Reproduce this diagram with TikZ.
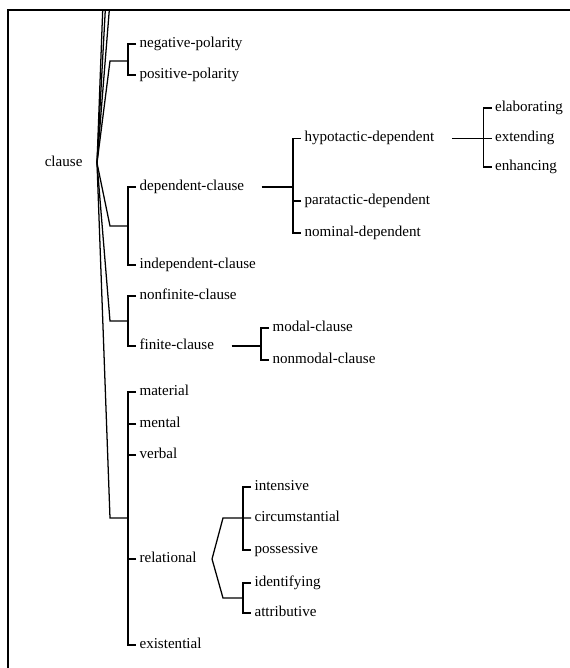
\documentclass[tikz,border=0pt]{standalone}
\usepackage{fontspec}
\setmainfont{Liberation Serif}
\usetikzlibrary{positioning}

\begin{document}
\begin{tikzpicture}[
        x=0.75pt, y=-0.75pt, line width=0.95pt,
        feat/.style={anchor=west, inner xsep=2.2pt, inner ysep=0pt, text height=1ex, text depth=0pt, font=\fontsize{11.3}{13}\selectfont}
    ]
        \useasboundingbox (0,0) rectangle (570,668);
        \draw[line width=1.1pt] (8,668) -- (8,10) -- (570,10);

        % root and its entry points
        \node[feat, anchor=east] (clause) at (86,163) {clause};
        \coordinate (cl) at ([xshift=8.25pt]clause.east);
        \coordinate (up1) at (102.7,10);
        \coordinate (up2) at (105.3,10);
        \coordinate (up3) at (109.3,10);
        \coordinate (j1) at (110,61);
        \coordinate (j2) at (110,226);
        \coordinate (j3) at (110,321);
        \coordinate (j4) at (110,518);

        % polarity
        \node[feat] (neg) at (136,44) {negative-polarity};
        \node[feat] (pos) at (136,75) {positive-polarity};

        % dependency
        \node[feat] (dep) at (136,187) {dependent-clause};
        \node[feat] (indep) at (136,265) {independent-clause};
        \node[feat] (hyp) at (301,138.5) {hypotactic-dependent};
        \node[feat] (para) at (301,201) {paratactic-dependent};
        \node[feat] (nom) at (301,233) {nominal-dependent};
        \node[feat] (elab) at (491.5,108) {elaborating};
        \node[feat] (ext) at (491.5,138.5) {extending};
        \node[feat] (enh) at (491.5,167) {enhancing};

        % finiteness
        \node[feat] (nonfin) at (136,296) {nonfinite-clause};
        \node[feat] (fin) at (136,346) {finite-clause};
        \node[feat] (modal) at (269,328) {modal-clause};
        \node[feat] (nonmodal) at (269,360) {nonmodal-clause};

        % process type
        \node[feat] (mat) at (136,392) {material};
        \node[feat] (ment) at (136,424) {mental};
        \node[feat] (verb) at (136,455) {verbal};
        \node[feat] (rel) at (136,559) {relational};
        \node[feat] (exist) at (136,645) {existential};
        \node[feat] (inten) at (251,487) {intensive};
        \node[feat] (circ) at (251,518) {circumstantial};
        \node[feat] (poss) at (251,550) {possessive};
        \node[feat] (ident) at (251,583) {identifying};
        \node[feat] (attr) at (251,613) {attributive};
        \coordinate (ra) at ([xshift=9pt]rel.east);
        \coordinate (ju) at (223,518);
        \coordinate (jl) at (223,598);

        % entry lines
        \draw (cl) -- (up1);
        \draw (cl) -- (up2);
        \draw (cl) -- (up3);
        \draw (cl) -- (j1) -- ++(18,0);
        \draw (cl) -- (j2) -- ++(18,0);
        \draw (cl) -- (j3) -- ++(18,0);
        \draw (cl) -- (j4) -- ++(18,0);

        % brackets
        \draw (neg.west) -- ++(-8,0) |- (pos.west);
        \draw (dep.west) -- ++(-8,0) |- (indep.west);
        \draw (hyp.west) -- ++(-8,0) |- (nom.west);
        \draw (para.west) -- ++(-8,0);
        \draw (elab.west) -- ++(-8,0) |- (enh.west);
        \draw (nonfin.west) -- ++(-8,0) |- (fin.west);
        \draw (modal.west) -- ++(-8,0) |- (nonmodal.west);
        \draw (mat.west) -- ++(-8,0) |- (exist.west);
        \draw (ment.west) -- ++(-8,0);
        \draw (verb.west) -- ++(-8,0);
        \draw (rel.west) -- ++(-8,0);
        \draw (inten.west) -- ++(-8,0) |- (poss.west);
        \draw (ident.west) -- ++(-8,0) |- (attr.west);

        % sub-systems
        \draw ([xshift=10.5pt]dep.east) -- ([xshift=-6pt]dep.east -| hyp.west);
        \draw ([xshift=10.5pt]hyp.east) -- (ext.west);
        \draw ([xshift=10.5pt]fin.east) -- ([xshift=-6pt]fin.east -| modal.west);
        \draw (circ.west) -- (ju) -- (ra) -- (jl) -- ++(20,0);
    \end{tikzpicture}
\end{document}
